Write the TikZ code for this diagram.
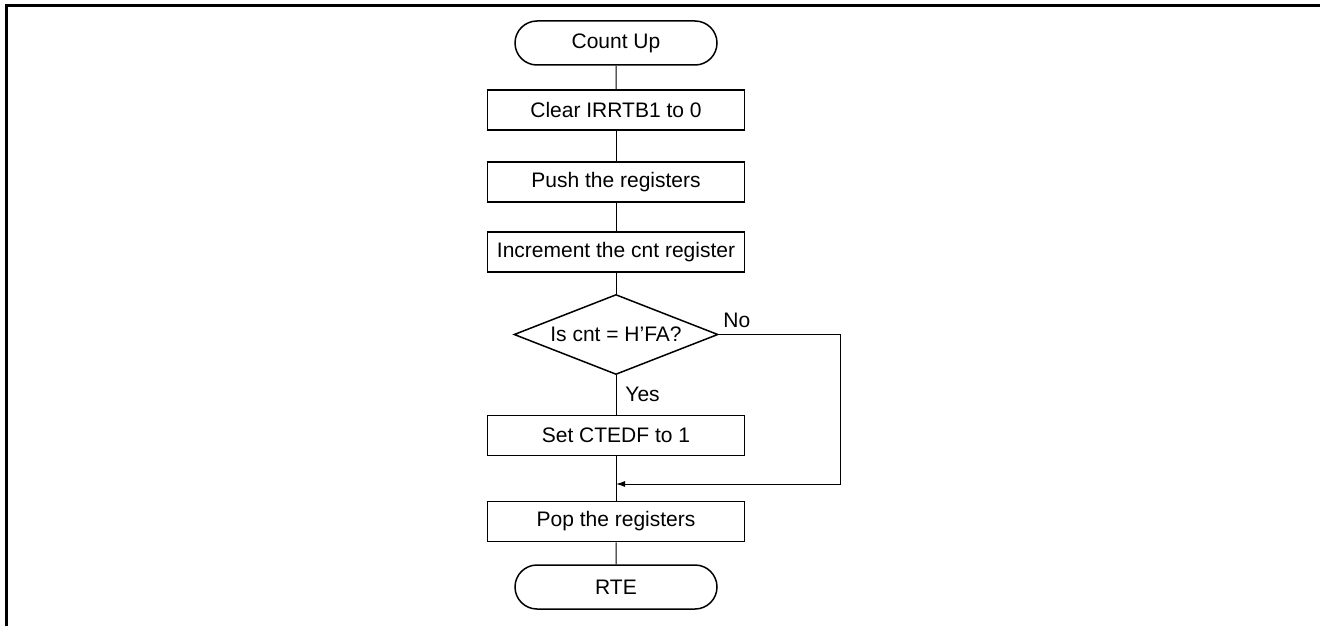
\documentclass[tikz,border=0pt]{standalone}
\usepackage{fontspec}
\setmainfont{Liberation Sans}
\usetikzlibrary{shapes.geometric,shapes.misc,arrows.meta}

\begin{document}
\begin{tikzpicture}[x=0.5pt,y=-0.5pt,font=\fontsize{10.5pt}{12pt}\selectfont,
  stepbox/.style={draw,line width=0.75pt,minimum width=128.5pt,minimum height=20pt,inner sep=0pt},
  endbox/.style={rounded rectangle,draw,line width=0.75pt,minimum width=101pt,minimum height=22pt,inner sep=0pt},
  testbox/.style={diamond,draw,line width=0.75pt,shape aspect=2.55,minimum width=102pt,minimum height=40pt,inner sep=0pt},
  flow/.style={line width=0.5pt}]
  \useasboundingbox (0,0) rectangle (1320,626);
  \draw[line width=1.5pt] (6,626) -- (6,6) -- (1320,6);
  \node[endbox] (countup) at (616,43) {Count Up};
  \node[stepbox] (clear) at (616,110) {Clear IRRTB1 to 0};
  \node[stepbox] (push) at (616,182) {Push the registers};
  \node[stepbox] (incr) at (616,252) {Increment the cnt register};
  \node[testbox] (iscnt) at (616,334.5) {Is cnt = H'FA?};
  \node[stepbox] (setflag) at (616,435.5) {Set CTEDF to 1};
  \node[stepbox] (pop) at (616,521.5) {Pop the registers};
  \node[endbox] (rte) at (616,587) {RTE};
  \node[anchor=west,inner sep=0pt] (no) at (723,320) {No};
  \node[anchor=west,inner sep=0pt] (yes) at (625,394) {Yes};
  \coordinate (merge) at (616,484);
  \coordinate (back) at (840,484);
  \draw[flow] (countup) -- (clear);
  \draw[flow] (clear) -- (push);
  \draw[flow] (push) -- (incr);
  \draw[flow] (incr) -- (iscnt);
  \draw[flow] (iscnt) -- (setflag);
  \draw[flow] (setflag) -- (pop);
  \draw[flow] (pop) -- (rte);
  \draw[flow,-{Latex[length=4.5pt,width=3pt]}] (iscnt.east) -| (back) -- (merge);
\end{tikzpicture}
\end{document}
